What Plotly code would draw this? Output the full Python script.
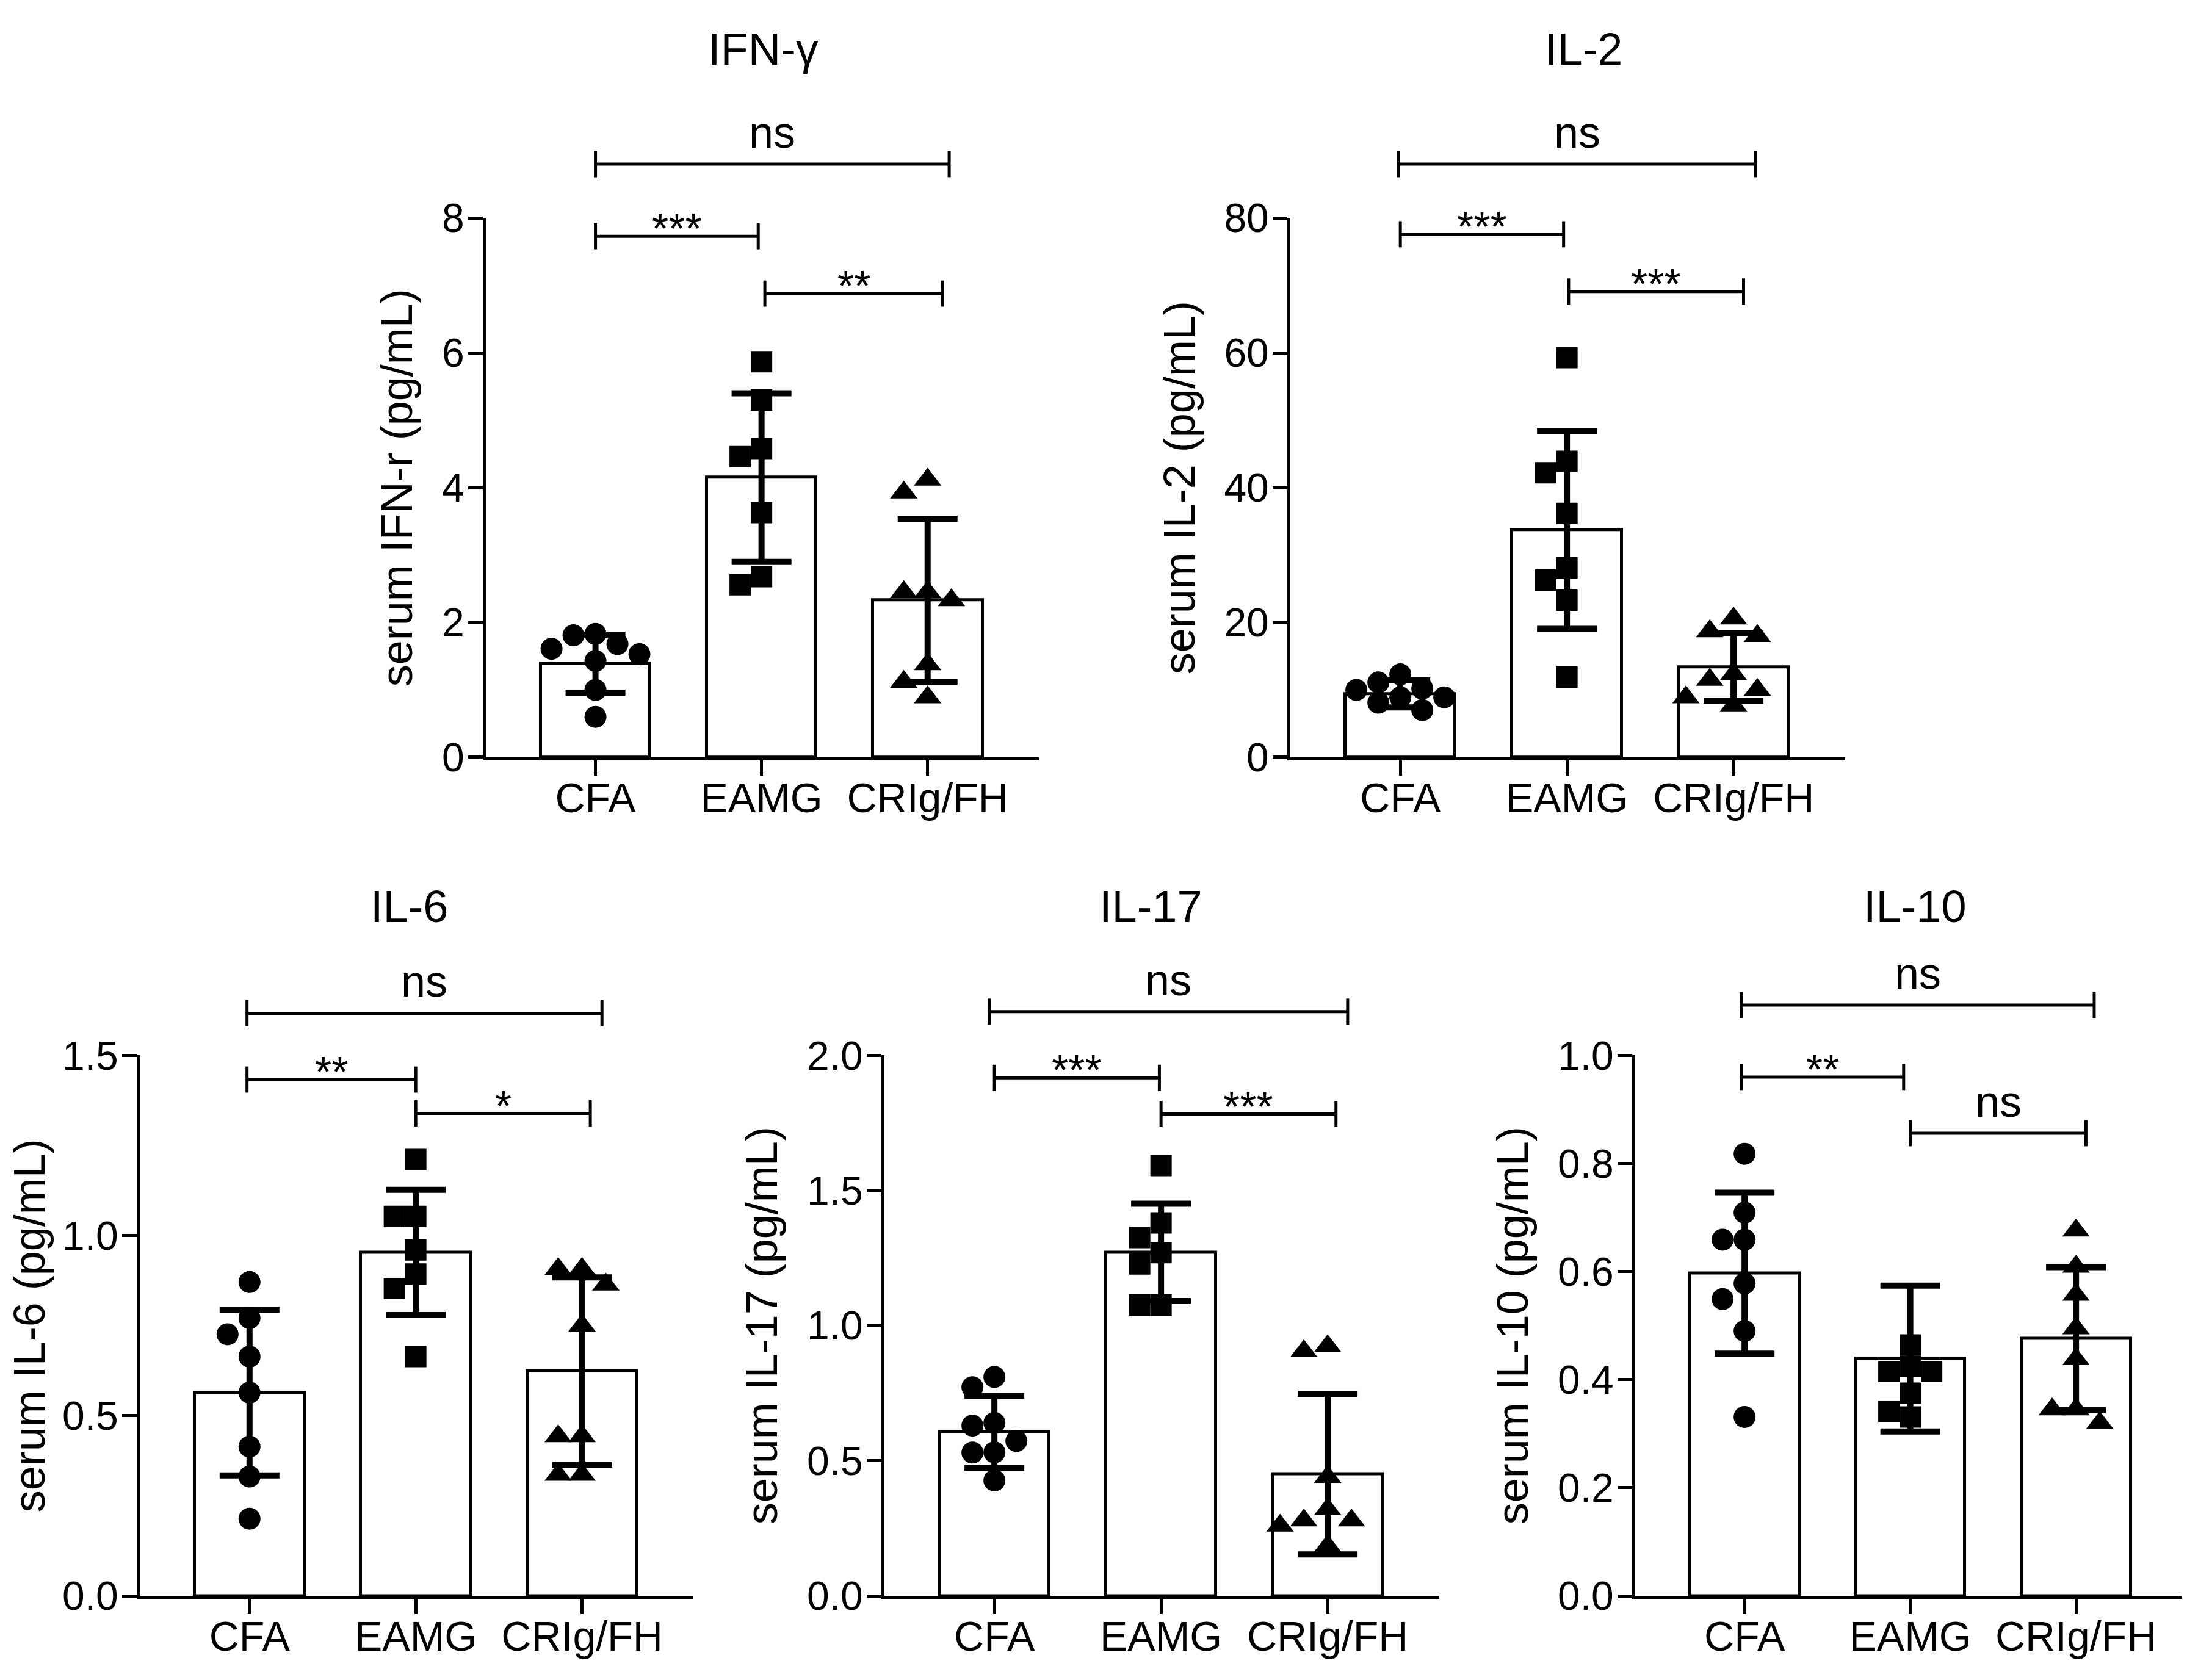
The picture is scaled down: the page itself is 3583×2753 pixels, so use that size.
import numpy as np
import plotly.graph_objects as go

# ---------------- data ----------------
GROUPS = ["CFA", "EAMG", "CRIg/FH"]

IFN_CFA = [1.81, 1.83, 1.68, 1.61, 1.53, 1.43, 1.00, 0.60]
IFN_EAMG = [5.87, 5.30, 4.58, 4.46, 3.63, 2.68, 2.56]
IFN_CRIG = [4.12, 3.93, 2.45, 2.45, 2.33, 1.38, 1.12, 0.89]
IFN_MEAN = [1.39, 4.15, 2.33]
IFN_SD = [0.43, 1.25, 1.21]
IFN_SIG = ["***", "**", "ns"]

IL2_CFA = [12.3, 11.1, 10.2, 10.0, 8.9, 8.9, 8.1, 7.0]
IL2_EAMG = [59.3, 43.9, 42.2, 36.2, 28.1, 26.3, 23.3, 11.9]
IL2_CRIG = [20.6, 18.7, 18.0, 12.3, 11.5, 10.0, 8.9, 7.7]
IL2_MEAN = [9.4, 33.7, 13.4]
IL2_SD = [2.0, 14.65, 5.0]
IL2_SIG = ["***", "***", "ns"]

IL6_CFA = [0.871, 0.771, 0.726, 0.664, 0.564, 0.414, 0.331, 0.214]
IL6_EAMG = [1.211, 1.053, 1.053, 0.960, 0.893, 0.853, 0.664]
IL6_CRIG = [0.907, 0.907, 0.864, 0.750, 0.443, 0.443, 0.336, 0.336]
IL6_MEAN = [0.564, 0.953, 0.624]
IL6_SD = [0.23, 0.174, 0.26]
IL6_SIG = ["**", "*", "ns"]

IL17_CFA = [0.810, 0.772, 0.640, 0.630, 0.573, 0.531, 0.530, 0.427]
IL17_EAMG = [1.592, 1.380, 1.326, 1.270, 1.228, 1.076, 1.076]
IL17_CRIG = [0.924, 0.905, 0.440, 0.320, 0.279, 0.279, 0.260, 0.184]
IL17_MEAN = [0.607, 1.271, 0.450]
IL17_SD = [0.133, 0.180, 0.297]
IL17_SIG = ["***", "***", "ns"]

IL10_CFA = [0.818, 0.709, 0.659, 0.659, 0.578, 0.549, 0.490, 0.331]
IL10_EAMG = [0.464, 0.425, 0.415, 0.415, 0.375, 0.341, 0.331]
IL10_CRIG = [0.676, 0.609, 0.557, 0.495, 0.438, 0.345, 0.345, 0.320]
IL10_MEAN = [0.597, 0.439, 0.476]
IL10_SD = [0.149, 0.135, 0.132]
IL10_SIG = ["**", "ns", "ns"]

# ---------------- layout / style ----------------
FIG_W, FIG_H = 3583, 2753
FONT = "Arial, Liberation Sans, Helvetica, sans-serif"
XR = (-0.66, 2.67)
SYMBOLS = ["circle", "square", "triangle-up"]
SIZES = [36, 35, 39]
TOP_Y = (321, 1229)
BOT_Y = (1731, 2641)

panels = [
    dict(title="IFN-γ", ytitle="serum IFN-r (pg/mL)", pts=[IFN_CFA, IFN_EAMG, IFN_CRIG],
         mean=IFN_MEAN, sd=IFN_SD, sig=IFN_SIG, ymax=8, dtick=2, fmt="d",
         xpx=(788, 1694), ypx=TOP_Y, tpos=(1242, 36),
         br=[((0.0, 0.98), 7.73), ((1.02, 2.09), 6.88), ((0.0, 2.13), 8.80)]),
    dict(title="IL-2", ytitle="serum IL-2 (pg/mL)", pts=[IL2_CFA, IL2_EAMG, IL2_CRIG],
         mean=IL2_MEAN, sd=IL2_SD, sig=IL2_SIG, ymax=80, dtick=20, fmt="d",
         xpx=(2106, 3015), ypx=TOP_Y, tpos=(2587, 36),
         br=[((0.0, 0.98), 77.6), ((1.01, 2.06), 69.1), ((-0.01, 2.13), 88.0)]),
    dict(title="IL-6", ytitle="serum IL-6 (pg/mL)", pts=[IL6_CFA, IL6_EAMG, IL6_CRIG],
         mean=IL6_MEAN, sd=IL6_SD, sig=IL6_SIG, ymax=1.5, dtick=0.5, fmt=".1f",
         xpx=(221, 1128), ypx=BOT_Y, tpos=(663, 1480),
         br=[((-0.015, 1.0), 1.433), ((1.0, 2.05), 1.339), ((-0.015, 2.12), 1.617)]),
    dict(title="IL-17", ytitle="serum IL-17 (pg/mL)", pts=[IL17_CFA, IL17_EAMG, IL17_CRIG],
         mean=IL17_MEAN, sd=IL17_SD, sig=IL17_SIG, ymax=2.0, dtick=0.5, fmt=".1f",
         xpx=(1441, 2350), ypx=BOT_Y, tpos=(1877, 1480),
         br=[((0.0, 0.99), 1.917), ((1.0, 2.05), 1.783), ((-0.03, 2.12), 2.162)]),
    dict(title="IL-10", ytitle="serum IL-10 (pg/mL)", pts=[IL10_CFA, IL10_EAMG, IL10_CRIG],
         mean=IL10_MEAN, sd=IL10_SD, sig=IL10_SIG, ymax=1.0, dtick=0.2, fmt=".1f",
         xpx=(2671, 3575), ypx=BOT_Y, tpos=(3129, 1480),
         br=[((-0.02, 0.96), 0.960), ((1.0, 2.06), 0.856), ((-0.02, 2.11), 1.093)]),
]


def swarm_offsets(vals, sx, sy, diam, step_frac=1.0, min_dist=1.0, kmax=2):
    """Simple beeswarm: spread points sideways so that markers do not pile up."""
    vals = np.asarray(vals, float)
    order = np.argsort(-vals, kind="stable")
    placed = []
    offs = np.zeros(len(vals))
    step = step_frac * diam
    cands = [0]
    for k in range(1, kmax + 1):
        cands += [-k, k]
    for i in order:
        ypx = vals[i] * sy
        best, best_d = None, -1.0
        for k in cands:
            xpx = k * step
            d = min([np.hypot(xpx - a, ypx - b) for a, b in placed] or [1e9])
            if d >= min_dist * diam:
                best = xpx
                break
            if d > best_d:
                best_d, best = d, xpx
        placed.append((best, ypx))
        offs[i] = best / sx
    return offs


fig = go.Figure()
shapes, annos = [], []
layout = {}

for idx, p in enumerate(panels):
    n = idx + 1
    sfx = "" if n == 1 else str(n)
    xa, ya = "x" + sfx, "y" + sfx
    xd = [p["xpx"][0] / FIG_W, p["xpx"][1] / FIG_W]
    yd = [1 - p["ypx"][1] / FIG_H, 1 - p["ypx"][0] / FIG_H]
    wpx = p["xpx"][1] - p["xpx"][0]
    hpx = p["ypx"][1] - p["ypx"][0]
    sx = wpx / (XR[1] - XR[0])
    sy = hpx / p["ymax"]

    fig.add_trace(go.Bar(
        x=[0, 1, 2], y=p["mean"], width=0.66,
        marker=dict(color="white", line=dict(color="black", width=5)),
        error_y=dict(type="data", array=p["sd"], visible=True, color="black",
                     thickness=10, width=49),
        xaxis=xa, yaxis=ya, showlegend=False, hoverinfo="skip"))

    for g in range(3):
        vals = p["pts"][g]
        offs = swarm_offsets(vals, sx, sy, SIZES[g])
        fig.add_trace(go.Scatter(
            x=g + offs, y=vals, mode="markers",
            marker=dict(symbol=SYMBOLS[g], size=SIZES[g], color="black",
                        line=dict(width=0)),
            xaxis=xa, yaxis=ya, showlegend=False, cliponaxis=False))

    layout["xaxis" + sfx] = dict(
        domain=xd, anchor=ya, range=list(XR), tickvals=[0, 1, 2], ticktext=GROUPS,
        showline=True, linecolor="black", linewidth=5, ticks="outside", ticklen=25,
        tickwidth=5, tickcolor="black", showgrid=False, zeroline=False,
        ticklabelstandoff=-22,
        tickfont=dict(family=FONT, size=68, color="black"), fixedrange=True)
    layout["yaxis" + sfx] = dict(
        domain=yd, anchor=xa, range=[0, p["ymax"]], tick0=0, dtick=p["dtick"],
        tickformat=p["fmt"], showline=True, linecolor="black", linewidth=5,
        ticks="outside", ticklen=24, tickwidth=5, tickcolor="black",
        showgrid=False, zeroline=False, ticklabelstandoff=-7,
        tickfont=dict(family=FONT, size=66, color="black"),
        title=dict(text=p["ytitle"], font=dict(family=FONT, size=72, color="black"),
                   standoff=26),
        fixedrange=True)

    def to_paper(x, y, xd=xd, yd=yd, ymax=p["ymax"]):
        fx = xd[0] + (x - XR[0]) / (XR[1] - XR[0]) * (xd[1] - xd[0])
        fy = yd[0] + y / ymax * (yd[1] - yd[0])
        return fx, fy

    tick_h = 22 / FIG_H
    for (xr, yv), lab in zip(p["br"], p["sig"]):
        x0, y0 = to_paper(xr[0], yv)
        x1, _ = to_paper(xr[1], yv)
        line = dict(color="black", width=5)
        shapes.append(dict(type="line", xref="paper", yref="paper", x0=x0, x1=x1, y0=y0, y1=y0, line=line))
        shapes.append(dict(type="line", xref="paper", yref="paper", x0=x0, x1=x0, y0=y0 - tick_h, y1=y0 + tick_h, line=line))
        shapes.append(dict(type="line", xref="paper", yref="paper", x0=x1, x1=x1, y0=y0 - tick_h, y1=y0 + tick_h, line=line))
        is_ns = lab == "ns"
        annos.append(dict(
            xref="paper", yref="paper", x=(x0 + x1) / 2, y=y0, xanchor="center", yanchor="middle",
            yshift=52 if is_ns else 12, showarrow=False, text=lab,
            font=dict(family=FONT, size=72 if is_ns else 70, color="black")))

    annos.append(dict(
        xref="paper", yref="paper", x=p["tpos"][0] / FIG_W, y=1 - p["tpos"][1] / FIG_H,
        xanchor="center", yanchor="middle", showarrow=False, text=p["title"],
        font=dict(family=FONT, size=74, color="black")))

fig.update_layout(
    width=FIG_W, height=FIG_H, margin=dict(l=0, r=0, t=0, b=0),
    paper_bgcolor="white", plot_bgcolor="white",
    font=dict(family=FONT, color="black"),
    shapes=shapes, annotations=annos, showlegend=False, bargap=0, **layout)

fig.write_html("out.html")
